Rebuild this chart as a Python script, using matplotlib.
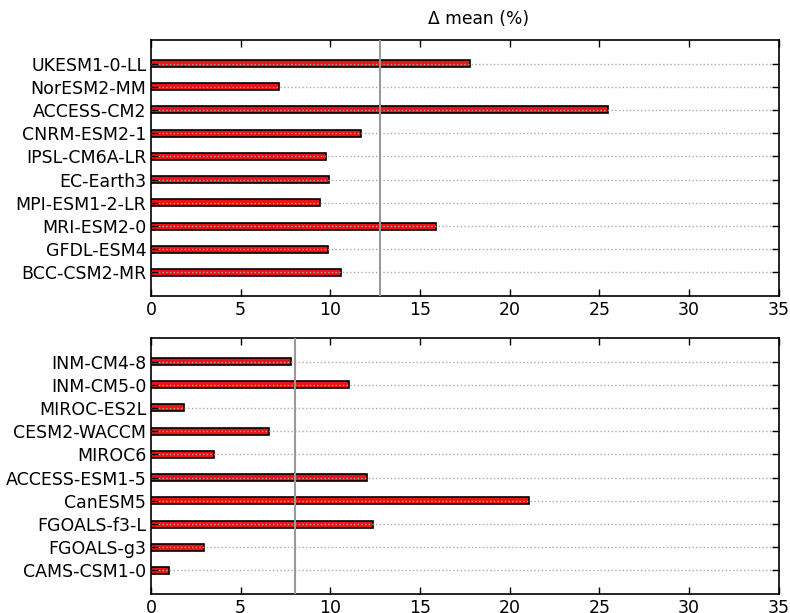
import numpy as np
import matplotlib
matplotlib.use("Agg")
import matplotlib.pyplot as plt

# Percentage change of the mean for each model, two groups
models_top = ["UKESM1-0-LL", "NorESM2-MM", "ACCESS-CM2", "CNRM-ESM2-1",
              "IPSL-CM6A-LR", "EC-Earth3", "MPI-ESM1-2-LR", "MRI-ESM2-0",
              "GFDL-ESM4", "BCC-CSM2-MR"]
values_top = [17.78, 7.12, 25.47, 11.69, 9.75, 9.90, 9.44, 15.89, 9.88, 10.57]

models_bottom = ["INM-CM4-8", "INM-CM5-0", "MIROC-ES2L", "CESM2-WACCM",
                 "MIROC6", "ACCESS-ESM1-5", "CanESM5", "FGOALS-f3-L",
                 "FGOALS-g3", "CAMS-CSM1-0"]
values_bottom = [7.80, 11.04, 1.86, 6.60, 3.51, 12.02, 21.09, 12.37, 2.97, 1.00]

xticks = [0, 5, 10, 15, 20, 25, 30, 35]

fig = plt.figure(figsize=(7.9, 6.13), dpi=100)
W, H = 790, 613
ax_top = fig.add_axes([151 / W, 1 - 295.7 / H, (778.7 - 151) / W, (295.7 - 40.3) / H])
ax_bot = fig.add_axes([151 / W, 1 - 593.7 / H, (778.7 - 151) / W, (593.7 - 338.3) / H])


def draw_panel(ax, names, vals):
    n = len(names)
    pos = np.arange(n)[::-1]
    ax.barh(pos, vals, height=0.3, color="#ee1111", edgecolor="black",
            linewidth=1.2, zorder=2)
    ax.axvline(np.mean(vals), color="#999999", linewidth=1.5, zorder=3)
    ax.set_yticks(pos)
    ax.set_yticklabels(names, fontsize=12.5)
    ax.set_xticks(xticks)
    ax.set_xticklabels([str(t) for t in xticks], fontsize=12.5)
    ax.set_xlim(0, 35)
    ax.set_ylim(-1, n)
    ax.grid(axis="y", linestyle=":", color="#aaaaaa", linewidth=1.0, zorder=4)
    ax.set_axisbelow(False)
    ax.tick_params(direction="in", top=True, right=True, length=5,
                   width=1.0, pad=3.5)
    for s in ax.spines.values():
        s.set_linewidth(1.2)


draw_panel(ax_top, models_top, values_top)
draw_panel(ax_bot, models_bottom, values_bottom)

fig.text(479 / W, 1 - 19 / H, "Δ mean (%)", ha="center",
         va="center", fontsize=12.3)

fig.savefig("out.png", dpi=100)
